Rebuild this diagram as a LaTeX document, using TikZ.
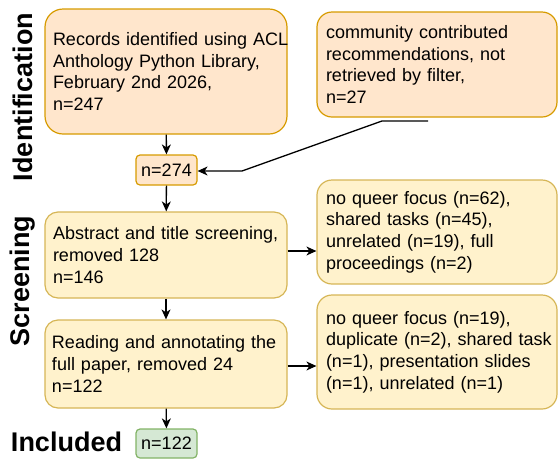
\documentclass[tikz,border=0pt]{standalone}
\usepackage{fontspec}
\setmainfont{Liberation Sans}
\usetikzlibrary{arrows.meta}

\definecolor{idfill}{HTML}{FFE6CC}
\definecolor{iddraw}{HTML}{D79B00}
\definecolor{scfill}{HTML}{FFF2CC}
\definecolor{scdraw}{HTML}{D6B656}
\definecolor{infill}{HTML}{D5E8D4}
\definecolor{indraw}{HTML}{82B366}

\tikzset{
  flowbox/.style={draw, line width=1.2pt, align=left, inner xsep=8pt, inner ysep=0pt, anchor=center},
  idbox/.style={flowbox, fill=idfill, draw=iddraw},
  scbox/.style={flowbox, fill=scfill, draw=scdraw},
  inbox/.style={flowbox, fill=infill, draw=indraw, inner xsep=4pt},
  phase/.style={font=\fontsize{27}{30}\selectfont\bfseries},
  flow/.style={line width=1.3pt, -{Stealth[length=10pt, width=9pt, inset=3pt]}},
}

\begin{document}
\begin{tikzpicture}[x=1pt, y=-1pt, font=\fontsize{18}{21.6}\selectfont]
  \useasboundingbox (0, 0) rectangle (558, 459);

  % phase labels
  \node[phase, rotate=90] (identification) at (23, 97) {Identification};
  \node[phase, rotate=90] (screening) at (23, 281) {Screening};
  \node[phase] (included) at (66.5, 442) {Included};

  % identification
  \node[idbox, rounded corners=18pt, text width=226pt, minimum height=125pt] (records) at (166, 71.5)
    {\mbox{Records identified using ACL}\\Anthology Python Library,\\February 2nd 2026,\\n=247};
  \node[idbox, rounded corners=15pt, text width=222pt, inner xsep=9pt, minimum height=105pt] (community) at (437, 64.5)
    {community contributed\\recommendations, not\\retrieved by filter,\\n=27};
  \node[idbox, rounded corners=4pt, inner xsep=4pt, minimum width=61pt, minimum height=30pt] (merged) at (166.5, 170) {n=274};

  % screening
  \node[scbox, rounded corners=13pt, text width=226pt, minimum height=86pt] (abstract) at (166, 255)
    {\mbox{Abstract and title screening,}\\removed 128\\n=146};
  \node[scbox, rounded corners=13pt, text width=228pt, inner xsep=7pt, minimum height=88pt] (fulltext) at (166, 364)
    {\mbox{Reading and annotating the}\\full paper, removed 24\\n=122};
  \node[scbox, rounded corners=15pt, text width=222pt, inner xsep=9pt, minimum height=104pt] (excluded1) at (437, 232)
    {no queer focus (n=62),\\shared tasks (n=45),\\unrelated (n=19), full\\proceedings (n=2)};
  \node[scbox, rounded corners=15pt, text width=222pt, inner xsep=9pt, minimum height=114pt] (excluded2) at (437, 352)
    {no queer focus (n=19),\\\mbox{duplicate (n=2), shared task}\\\mbox{(n=1), presentation slides}\\(n=1), unrelated (n=1)};

  % included
  \node[inbox, rounded corners=4pt, minimum width=61pt, minimum height=29pt] (final) at (166.5, 443.5) {n=122};

  % connectors
  \coordinate (loose) at (428, 121);
  \draw[flow] (records) -- (merged);
  \draw[flow] (loose) -- (382, 121) -- (242, 171) -- (merged.east |- 0, 171);
  \draw[flow] (merged) -- (abstract);
  \draw[flow] (abstract) -- (fulltext);
  \draw[flow] (fulltext) -- (final);
  \draw[flow] (abstract.east |- 0, 251) -- (excluded1.west |- 0, 251);
  \draw[flow] (fulltext.east |- 0, 366) -- (excluded2.west |- 0, 366);
\end{tikzpicture}
\end{document}
